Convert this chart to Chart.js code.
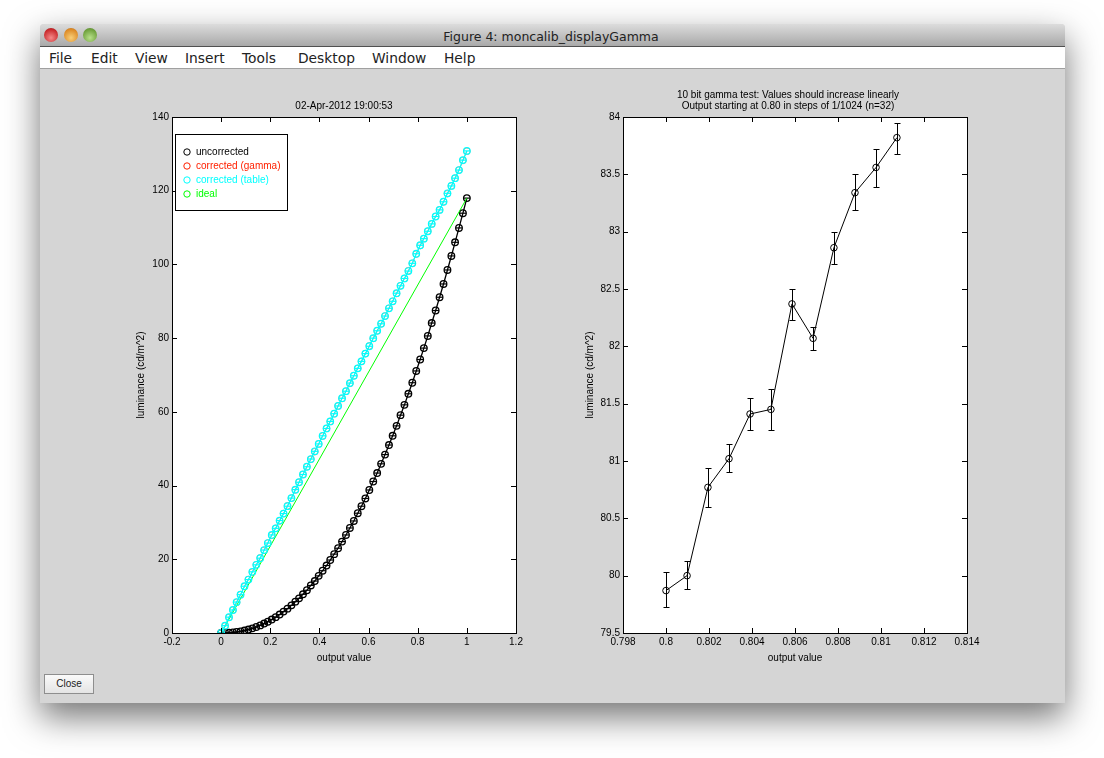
<!DOCTYPE html>
<html>
<head>
<meta charset="utf-8">
<title>Figure 4: moncalib_displayGamma</title>
<script src="https://cdn.jsdelivr.net/npm/chart.js@4"></script>
<style>
    html, body { margin: 0; padding: 0; background: #fff; width: 1104px; height: 758px; overflow: hidden; }
    #window { position: absolute; left: 39.5px; top: 24px; width: 1025px; height: 679px; background: #d5d5d5;
        box-shadow: 0 14px 34px rgba(0, 0, 0, 0.55); border-radius: 4px 4px 0 0; }
    #titlebar { position: absolute; left: 0; top: 0; right: 0; height: 22px; border-radius: 4px 4px 0 0;
        background: linear-gradient(#dcdcdc, #a9a9a9); border-bottom: 1px solid #505050; }
    #titletext { position: absolute; left: 0; right: 2px; top: 5px; text-align: center; font: 12.5px "DejaVu Sans"; color: #222; }
    .light { position: absolute; top: 4px; width: 14px; height: 14px; border-radius: 50%; }
    #menubar { position: absolute; left: 0; right: 0; top: 23px; height: 21px; background: #fff; border-bottom: 1px solid #a0a0a0; }
    #menubar span { position: absolute; top: 3px; font: 13.8px "DejaVu Sans"; color: #222; }
    #close { position: absolute; left: 4.5px; top: 650px; width: 48px; height: 18px; border: 1px solid #8e8e8e;
        background: linear-gradient(#fafafa, #e4e4e4); font: 10px "Liberation Sans"; line-height: 18px; text-align: center; color: #222; }
    canvas { position: absolute; }
    #leftBox { position: absolute; left: 100px; top: 90px; width: 488px; height: 574px; }
    #rightBox { position: absolute; left: 551px; top: 90px; width: 474px; height: 574px; }
</style>
</head>
<body>
<div id="window">
    <div id="titlebar">
        <div class="light" style="left:4.5px;background:radial-gradient(circle at 50% 70%,#f58a8a,#c8272a 70%,#8e2020)"></div>
        <div class="light" style="left:24.5px;background:radial-gradient(circle at 50% 70%,#f8cf78,#dd8a25 70%,#a8661f)"></div>
        <div class="light" style="left:43.5px;background:radial-gradient(circle at 50% 70%,#b8e08a,#6ea03c 70%,#557d2f)"></div>
        <div id="titletext">Figure 4: moncalib_displayGamma</div>
    </div>
    <div id="menubar">
        <span style="left:9.5px">File</span>
        <span style="left:51.5px">Edit</span>
        <span style="left:95.5px">View</span>
        <span style="left:145.5px">Insert</span>
        <span style="left:202.5px">Tools</span>
        <span style="left:258.5px">Desktop</span>
        <span style="left:332.5px">Window</span>
        <span style="left:404.5px">Help</span>
    </div>
    <div id="close">Close</div>
</div>
<div id="leftBox"><canvas id="leftChart" width="488" height="574"></canvas></div>
<div id="rightBox"><canvas id="rightChart" width="474" height="574"></canvas></div>

<script>
// --- LEFT PLOT DATA ---
const outputValues = [0, 0.016, 0.032, 0.048, 0.063, 0.079, 0.095, 0.111, 0.127, 0.143, 0.159, 0.175, 0.190, 0.206, 0.222, 0.238,
    0.254, 0.270, 0.286, 0.302, 0.317, 0.333, 0.349, 0.365, 0.381, 0.397, 0.413, 0.429, 0.444, 0.460, 0.476, 0.492,
    0.508, 0.524, 0.540, 0.556, 0.571, 0.587, 0.603, 0.619, 0.635, 0.651, 0.667, 0.683, 0.698, 0.714, 0.730, 0.746,
    0.762, 0.778, 0.794, 0.810, 0.825, 0.841, 0.857, 0.873, 0.889, 0.905, 0.921, 0.937, 0.952, 0.968, 0.984, 1];
const uncorrected = [0, 0, 0.05, 0.15, 0.27, 0.44, 0.66, 0.93, 1.26, 1.63, 2.06, 2.56, 3.06, 3.65, 4.3, 5.0,
    5.8, 6.6, 7.5, 8.5, 9.4, 10.5, 11.6, 12.9, 14.1, 15.5, 16.9, 18.3, 19.8, 21.4, 23.0, 24.8,
    26.6, 28.5, 30.4, 32.5, 34.4, 36.5, 38.8, 41.1, 43.4, 45.9, 48.4, 51.0, 53.5, 56.2, 59.1, 61.9,
    64.9, 67.9, 71.1, 74.2, 77.3, 80.6, 84.1, 87.5, 91.1, 94.7, 98.5, 102.3, 106.0, 109.9, 113.9, 118];
const correctedTable = [0, 1.99, 4.3, 6.24, 8.4, 10.4, 12.7, 14.5, 16.6, 18.5, 20.3, 22.5, 24.4, 26.6, 28.4, 30.5,
    32.4, 34.4, 36.6, 38.9, 40.9, 43.0, 45.1, 47.2, 49.3, 51.3, 53.5, 55.5, 57.4, 59.5, 61.6, 63.7,
    65.6, 67.8, 69.8, 71.8, 73.7, 75.8, 77.8, 80.0, 82.0, 83.9, 86.0, 88.1, 90.0, 92.2, 94.2, 96.2,
    98.2, 100.3, 102.9, 105.2, 107.0, 109.0, 111.0, 113.0, 114.8, 117.0, 119.3, 121.3, 123.4, 125.6, 128.3, 130.8];
// red markers are hidden under the cyan ones in the picture
const correctedGamma = [0, 1.9, 4.2, 6.2, 8.3, 10.4, 12.6, 14.5, 16.5, 18.5, 20.4, 22.4, 24.4, 26.5, 28.4, 30.4,
    32.4, 34.5, 36.6, 38.8, 40.9, 43.0, 45.1, 47.1, 49.2, 51.3, 53.4, 55.5, 57.4, 59.5, 61.6, 63.6,
    65.6, 67.7, 69.8, 71.8, 73.7, 75.8, 77.9, 79.9, 82.0, 83.9, 86.0, 88.1, 90.0, 92.1, 94.2, 96.2,
    98.3, 100.3, 102.8, 105.1, 107.0, 109.0, 111.0, 113.0, 114.8, 117.0, 119.2, 121.3, 123.4, 125.6, 128.2, 130.7];
const idealX = [0, 1];
const idealY = [0, 118];
const leftXTicks = [-0.2, 0, 0.2, 0.4, 0.6, 0.8, 1, 1.2];
const leftYTicks = [0, 20, 40, 60, 80, 100, 120, 140];
const legendNames = ['uncorrected', 'corrected (gamma)', 'corrected (table)', 'ideal'];
const legendColors = ['#000000', '#ff2000', '#00ffff', '#00ff00'];

// --- RIGHT PLOT DATA ---
const testOutput = [0.8, 0.80098, 0.80195, 0.80293, 0.80391, 0.80488, 0.80586, 0.80684, 0.80781, 0.80879, 0.80977, 0.81074];
const testLum = [79.87, 80.0, 80.77, 81.02, 81.41, 81.45, 82.37, 82.07, 82.86, 83.34, 83.56, 83.82];
const testLow = [79.73, 79.88, 80.6, 80.9, 81.27, 81.27, 82.23, 81.97, 82.72, 83.19, 83.39, 83.68];
const testHigh = [80.03, 80.13, 80.94, 81.15, 81.55, 81.63, 82.5, 82.17, 83.0, 83.5, 83.72, 83.95];
const rightXTicks = [0.798, 0.8, 0.802, 0.804, 0.806, 0.808, 0.81, 0.812, 0.814];
const rightYTicks = [79.5, 80, 80.5, 81, 81.5, 82, 82.5, 83, 83.5, 84];

const PLOT_FONT = { family: "'Liberation Sans', Arial, sans-serif", size: 10, weight: 'normal' };

const points = (xs, ys) => xs.map((x, i) => ({ x: x, y: ys[i] }));

// MATLAB style box with ticks pointing inwards on all four sides
const boxTicks = {
    id: 'boxTicks',
    afterDatasetsDraw(chart) {
        const { ctx, chartArea: a, scales } = chart;
        const L = 5;
        ctx.save();
        ctx.strokeStyle = '#000';
        ctx.lineWidth = 1;
        ctx.beginPath();
        scales.x.ticks.forEach(t => {
            const px = Math.round(scales.x.getPixelForValue(t.value)) + 0.5;
            ctx.moveTo(px, a.top); ctx.lineTo(px, a.top + L);
            ctx.moveTo(px, a.bottom); ctx.lineTo(px, a.bottom - L);
        });
        scales.y.ticks.forEach(t => {
            const py = Math.round(scales.y.getPixelForValue(t.value)) + 0.5;
            ctx.moveTo(a.left, py); ctx.lineTo(a.left + L, py);
            ctx.moveTo(a.right, py); ctx.lineTo(a.right - L, py);
        });
        ctx.stroke();
        ctx.strokeRect(a.left + 0.5, a.top + 0.5, a.right - a.left, a.bottom - a.top);
        ctx.restore();
    }
};

const whitePlot = {
    id: 'whitePlot',
    beforeDraw(chart) {
        const { ctx, chartArea: a } = chart;
        ctx.save();
        ctx.fillStyle = '#fff';
        ctx.fillRect(a.left, a.top, a.right - a.left, a.bottom - a.top);
        ctx.restore();
    }
};

const legendBox = {
    id: 'legendBox',
    afterDraw(chart) {
        const { ctx, chartArea: a } = chart;
        const left = a.left + 3, top = a.top + 17;
        ctx.save();
        ctx.fillStyle = '#fff';
        ctx.fillRect(left, top, 112, 76);
        ctx.strokeStyle = '#000';
        ctx.lineWidth = 1;
        ctx.strokeRect(left + 0.5, top + 0.5, 112, 76);
        ctx.font = '10px ' + PLOT_FONT.family;
        ctx.textBaseline = 'middle';
        legendNames.forEach((name, i) => {
            const y = top + 18 + i * 14;
            ctx.strokeStyle = legendColors[i];
            ctx.beginPath();
            ctx.arc(left + 12, y, 3.2, 0, Math.PI * 2);
            ctx.stroke();
            ctx.fillStyle = legendColors[i];
            ctx.fillText(name, left + 21, y);
        });
        ctx.restore();
    }
};

const errorBars = {
    id: 'errorBars',
    afterDatasetsDraw(chart) {
        const { ctx, scales } = chart;
        const CAP = 3;
        ctx.save();
        ctx.strokeStyle = '#000';
        ctx.lineWidth = 1;
        ctx.beginPath();
        testOutput.forEach((v, i) => {
            const px = Math.round(scales.x.getPixelForValue(v)) + 0.5;
            const lo = Math.round(scales.y.getPixelForValue(testLow[i])) + 0.5;
            const hi = Math.round(scales.y.getPixelForValue(testHigh[i])) + 0.5;
            ctx.moveTo(px, lo); ctx.lineTo(px, hi);
            ctx.moveTo(px - CAP, lo); ctx.lineTo(px + CAP, lo);
            ctx.moveTo(px - CAP, hi); ctx.lineTo(px + CAP, hi);
        });
        ctx.stroke();
        ctx.restore();
    }
};

function axes(xTicks, yTicks, xMin, xMax, yMin, yMax, yWidth, yTitlePad, rightWidth) {
    const common = { color: '#000', font: PLOT_FONT, autoSkip: false, maxRotation: 0, minRotation: 0 };
    return {
        x: {
            type: 'linear', min: xMin, max: xMax,
            grid: { display: false, drawTicks: false }, border: { display: false },
            afterBuildTicks: s => { s.ticks = xTicks.map(v => ({ value: v })); },
            afterFit: s => { s.height = 31; },
            ticks: { ...common, padding: 3, callback: v => String(v) },
            title: { display: true, text: 'output value', color: '#000', font: PLOT_FONT, padding: { top: 0, bottom: 0 } }
        },
        y: {
            type: 'linear', min: yMin, max: yMax,
            grid: { display: false, drawTicks: false }, border: { display: false },
            afterBuildTicks: s => { s.ticks = yTicks.map(v => ({ value: v })); },
            afterFit: s => { s.width = yWidth; },
            ticks: { ...common, padding: 3, callback: v => String(v) },
            title: { display: true, text: 'luminance (cd/m^2)', color: '#000', font: PLOT_FONT, padding: { top: yTitlePad, bottom: 0 } }
        },
        // empty right axis, sets where the title centre falls over the plot
        yBalance: {
            position: 'right', min: yMin, max: yMax,
            grid: { display: false, drawTicks: false }, border: { display: false },
            ticks: { display: false },
            afterFit: s => { s.width = rightWidth; }
        }
    };
}

const baseOptions = {
    responsive: false,
    animation: false,
    devicePixelRatio: 1,
    plugins: { legend: { display: false }, tooltip: { enabled: false } }
};

function marked(label, ys, color, order, width) {
    return {
        label: label, data: points(outputValues, ys), order: order,
        borderColor: color, backgroundColor: 'transparent', borderWidth: width,
        pointStyle: 'circle', pointRadius: 3.3, pointBorderWidth: width, pointBorderColor: color, tension: 0
    };
}
// the tiny error bar caps seen across each marker
function caps(ys, color, order) {
    return {
        label: '', data: points(outputValues, ys), order: order, showLine: false,
        pointStyle: 'line', pointRadius: 3.3, pointBorderWidth: 1.2, pointBorderColor: color
    };
}

new Chart(document.getElementById('leftChart'), {
    type: 'line',
    data: {
        datasets: [
            marked(legendNames[0], uncorrected, legendColors[0], 8, 1.3),
            caps(uncorrected, legendColors[0], 7),
            marked(legendNames[1], correctedGamma, legendColors[1], 6, 0.5),
            { label: legendNames[3], data: points(idealX, idealY), order: 5, borderColor: legendColors[3], borderWidth: 1, pointRadius: 0, tension: 0 },
            marked(legendNames[2], correctedTable, legendColors[2], 4, 1.2),
            caps(correctedTable, legendColors[2], 3)
        ]
    },
    options: {
        ...baseOptions,
        scales: axes(leftXTicks, leftYTicks, -0.2, 1.2, 0, 140, 72, 35, 72),
        plugins: {
            ...baseOptions.plugins,
            title: { display: true, text: '02-Apr-2012 19:00:53', color: '#000', font: PLOT_FONT, padding: { top: 10, bottom: 5 } }
        }
    },
    plugins: [whitePlot, boxTicks, legendBox]
});

new Chart(document.getElementById('rightChart'), {
    type: 'line',
    data: {
        datasets: [{
            label: 'luminance', data: points(testOutput, testLum),
            borderColor: '#000', backgroundColor: 'transparent', borderWidth: 1,
            pointStyle: 'circle', pointRadius: 3.3, pointBorderWidth: 1, pointBorderColor: '#000', tension: 0
        }]
    },
    options: {
        ...baseOptions,
        scales: axes(rightXTicks, rightYTicks, 0.798, 0.814, 79.5, 84, 72, 33, 58),
        plugins: {
            ...baseOptions.plugins,
            title: {
                display: true,
                text: ['10 bit gamma test: Values should increase linearly', 'Output starting at 0.80 in steps of 1/1024 (n=32)'],
                color: '#000', font: { ...PLOT_FONT, lineHeight: 1.1 }, padding: { top: 0, bottom: 5 }
            }
        }
    },
    plugins: [whitePlot, errorBars, boxTicks]
});
</script>
</body>
</html>
